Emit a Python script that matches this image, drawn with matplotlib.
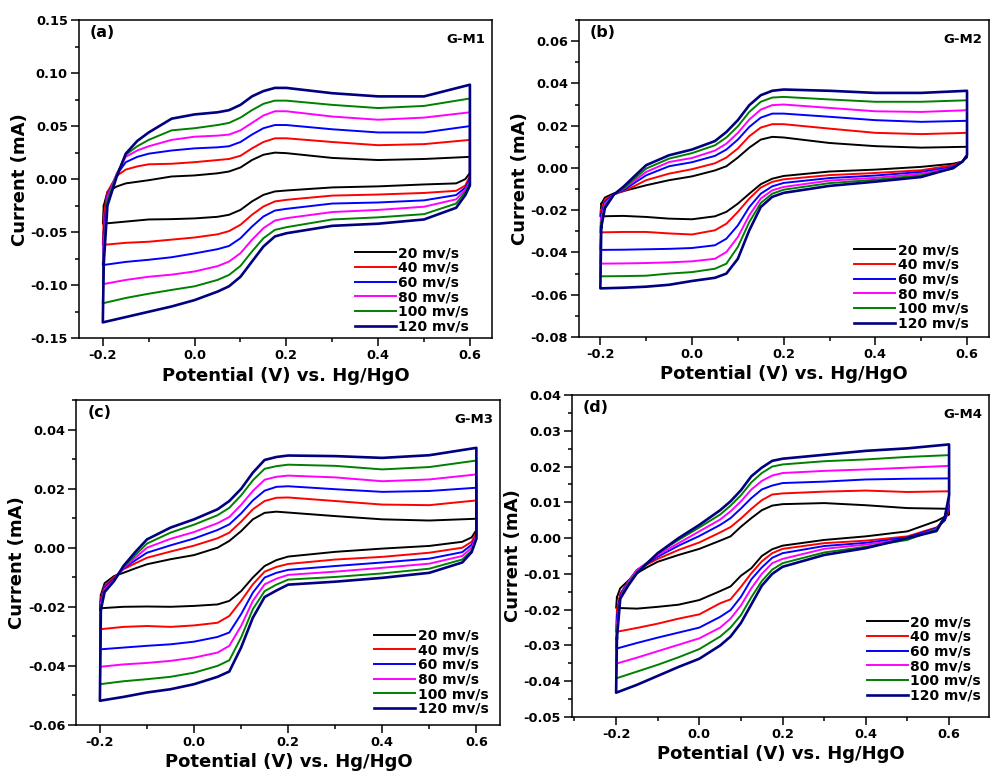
import matplotlib
matplotlib.use('Agg')
import matplotlib.pyplot as plt
from matplotlib.ticker import MultipleLocator, AutoMinorLocator, FuncFormatter

plt.rcParams['font.family'] = ['DejaVu Sans']
plt.rcParams['font.weight'] = 'bold'

rates = ['20 mv/s', '40 mv/s', '60 mv/s', '80 mv/s', '100 mv/s', '120 mv/s']
colors = ['#000000', '#ff0000', '#0000ff', '#ff00ff', '#008000', '#000080']

# potentials of the read points: forward (anodic) and reverse (cathodic) scans
up_v = [-0.198, -0.19, -0.17, -0.15, -0.125, -0.1, -0.05, 0.0, 0.05, 0.075, 0.1, 0.125, 0.15, 0.175, 0.2, 0.3, 0.4, 0.5, 0.6]
lo_v = [0.6, 0.59, 0.57, 0.5, 0.4, 0.3, 0.2, 0.175, 0.15, 0.125, 0.1, 0.075, 0.05, 0.0, -0.05, -0.1, -0.15, -0.2]

# G-M1 currents (mA), one row per scan rate
a_up = [
    [-0.025, -0.012, -0.007, -0.004, -0.0025, -0.001, 0.0025, 0.0035, 0.0055, 0.0072, 0.011, 0.018, 0.023, 0.025, 0.0245, 0.020, 0.018, 0.019, 0.021],
    [-0.035, -0.012, 0.003, 0.009, 0.012, 0.014, 0.0145, 0.016, 0.018, 0.019, 0.022, 0.029, 0.035, 0.0385, 0.0385, 0.035, 0.032, 0.033, 0.037],
    [-0.050, -0.015, 0.004, 0.016, 0.021, 0.024, 0.027, 0.029, 0.030, 0.031, 0.035, 0.042, 0.048, 0.051, 0.051, 0.047, 0.044, 0.044, 0.050],
    [-0.060, -0.017, 0.005, 0.021, 0.027, 0.031, 0.037, 0.040, 0.041, 0.042, 0.046, 0.053, 0.060, 0.064, 0.064, 0.059, 0.056, 0.058, 0.063],
    [-0.070, -0.020, 0.004, 0.023, 0.031, 0.037, 0.046, 0.048, 0.051, 0.053, 0.058, 0.065, 0.071, 0.074, 0.074, 0.070, 0.067, 0.069, 0.076],
    [-0.080, -0.025, 0.002, 0.024, 0.036, 0.044, 0.057, 0.061, 0.063, 0.065, 0.070, 0.078, 0.083, 0.086, 0.086, 0.081, 0.078, 0.078, 0.089],
]
a_lo = [
    [0.006, 0.000, -0.004, -0.005, -0.0068, -0.0078, -0.0107, -0.0116, -0.0148, -0.021, -0.029, -0.0336, -0.0355, -0.037, -0.0377, -0.038, -0.040, -0.042],
    [0.003, -0.006, -0.011, -0.013, -0.0145, -0.0155, -0.0195, -0.021, -0.0258, -0.0336, -0.043, -0.049, -0.052, -0.055, -0.057, -0.059, -0.060, -0.062],
    [0.000, -0.008, -0.015, -0.020, -0.022, -0.023, -0.028, -0.0296, -0.0352, -0.0447, -0.0557, -0.063, -0.066, -0.070, -0.0736, -0.076, -0.078, -0.081],
    [-0.002, -0.010, -0.019, -0.026, -0.029, -0.031, -0.0368, -0.039, -0.0462, -0.0572, -0.0698, -0.0777, -0.082, -0.087, -0.090, -0.092, -0.095, -0.099],
    [-0.004, -0.012, -0.023, -0.033, -0.036, -0.038, -0.0453, -0.0478, -0.0557, -0.0682, -0.0818, -0.0903, -0.095, -0.101, -0.1044, -0.108, -0.112, -0.117],
    [-0.006, -0.015, -0.027, -0.038, -0.042, -0.044, -0.051, -0.054, -0.0635, -0.0777, -0.092, -0.101, -0.106, -0.114, -0.120, -0.125, -0.130, -0.135],
]

# G-M2
b_up = [
    [-0.017, -0.014, -0.012, -0.011, -0.0096, -0.0082, -0.0058, -0.004, -0.0012, 0.0008, 0.0049, 0.0096, 0.0134, 0.0147, 0.0144, 0.0118, 0.0103, 0.0096, 0.0100],
    [-0.020, -0.015, -0.0125, -0.011, -0.0085, -0.0058, -0.0027, -0.0006, 0.0022, 0.0049, 0.0092, 0.015, 0.0191, 0.0207, 0.0207, 0.0186, 0.0166, 0.0160, 0.0166],
    [-0.022, -0.016, -0.0125, -0.0106, -0.007, -0.0035, 0.0008, 0.0027, 0.0057, 0.0087, 0.0134, 0.0194, 0.0238, 0.0257, 0.0257, 0.0242, 0.0226, 0.0218, 0.0223],
    [-0.024, -0.017, -0.0125, -0.010, -0.006, -0.0019, 0.0028, 0.0047, 0.0082, 0.0115, 0.0166, 0.0229, 0.0276, 0.0297, 0.0300, 0.0284, 0.0268, 0.0265, 0.0273],
    [-0.026, -0.018, -0.0125, -0.0098, -0.005, -0.0003, 0.0044, 0.0070, 0.0107, 0.0144, 0.0197, 0.0265, 0.0313, 0.0333, 0.0336, 0.0324, 0.0313, 0.0313, 0.0320],
    [-0.028, -0.019, -0.0125, -0.009, -0.0038, 0.0013, 0.0060, 0.0087, 0.0127, 0.0170, 0.0226, 0.0297, 0.0344, 0.0365, 0.0371, 0.0365, 0.0355, 0.0355, 0.0365],
]
b_lo = [
    [0.005, 0.003, 0.002, 0.0005, -0.0008, -0.0017, -0.0038, -0.0051, -0.0077, -0.0122, -0.0169, -0.0208, -0.0229, -0.0243, -0.024, -0.0232, -0.0227, -0.0229],
    [0.006, 0.003, 0.0013, -0.0011, -0.0024, -0.0034, -0.0054, -0.0066, -0.0093, -0.0145, -0.0208, -0.0264, -0.0295, -0.0315, -0.031, -0.0303, -0.0303, -0.0305],
    [0.006, 0.003, 0.0005, -0.0019, -0.0036, -0.0048, -0.0071, -0.0087, -0.0122, -0.0185, -0.0272, -0.0335, -0.0366, -0.0379, -0.0383, -0.0385, -0.0387, -0.0388],
    [0.006, 0.003, 0.0, -0.0027, -0.0047, -0.0060, -0.0090, -0.0106, -0.0145, -0.0224, -0.0327, -0.0398, -0.0430, -0.0442, -0.0447, -0.0450, -0.0452, -0.0453],
    [0.006, 0.003, -0.0003, -0.0035, -0.0056, -0.0072, -0.0103, -0.0122, -0.0166, -0.0256, -0.0374, -0.0453, -0.0477, -0.0493, -0.0500, -0.0510, -0.0512, -0.0513],
    [0.006, 0.003, 0.0, -0.0043, -0.0065, -0.0085, -0.0118, -0.0137, -0.0185, -0.0295, -0.0430, -0.0500, -0.0520, -0.0535, -0.0553, -0.0562, -0.0567, -0.0570],
]

# G-M3
c_up = [
    [-0.016, -0.012, -0.0096, -0.0085, -0.007, -0.0056, -0.0039, -0.0025, 0.0, 0.0023, 0.0056, 0.0096, 0.0118, 0.0122, 0.0119, 0.0107, 0.0096, 0.0092, 0.0098],
    [-0.017, -0.013, -0.010, -0.0073, -0.0053, -0.0034, -0.0013, 0.0007, 0.0032, 0.0051, 0.0088, 0.013, 0.0158, 0.0169, 0.0170, 0.0158, 0.0146, 0.0144, 0.0160],
    [-0.018, -0.0135, -0.0105, -0.007, -0.0043, -0.0017, 0.0008, 0.0031, 0.006, 0.0079, 0.0116, 0.016, 0.0193, 0.0206, 0.0208, 0.0198, 0.0189, 0.0192, 0.0203],
    [-0.019, -0.014, -0.011, -0.0068, -0.0034, 0.0, 0.003, 0.0053, 0.0083, 0.0104, 0.0145, 0.0192, 0.023, 0.024, 0.0244, 0.0238, 0.0225, 0.0231, 0.0248],
    [-0.020, -0.0145, -0.0112, -0.0065, -0.0025, 0.0014, 0.0051, 0.0078, 0.011, 0.0135, 0.0177, 0.0228, 0.0267, 0.0276, 0.0281, 0.0277, 0.0265, 0.0273, 0.0295],
    [-0.021, -0.015, -0.0113, -0.0062, -0.0015, 0.0028, 0.0068, 0.0096, 0.013, 0.0158, 0.0199, 0.0254, 0.0297, 0.0307, 0.0312, 0.0310, 0.0304, 0.0313, 0.0338],
]
c_lo = [
    [0.006, 0.0035, 0.002, 0.0006, -0.0003, -0.0014, -0.003, -0.0042, -0.0062, -0.0101, -0.0147, -0.018, -0.0192, -0.0197, -0.020, -0.0199, -0.020, -0.0205],
    [0.005, 0.002, 0.0, -0.0017, -0.0031, -0.0040, -0.0055, -0.0065, -0.0081, -0.0124, -0.018, -0.0231, -0.0254, -0.0263, -0.0268, -0.0265, -0.0268, -0.0276],
    [0.004, 0.001, -0.0015, -0.0037, -0.005, -0.0062, -0.0075, -0.0085, -0.0101, -0.0152, -0.0225, -0.0287, -0.0302, -0.0318, -0.0327, -0.0332, -0.0338, -0.0344],
    [0.004, 0.0, -0.0028, -0.0054, -0.0068, -0.0081, -0.0092, -0.0105, -0.0124, -0.018, -0.0265, -0.0332, -0.0355, -0.0372, -0.0383, -0.039, -0.0395, -0.0403],
    [0.003, -0.001, -0.004, -0.0071, -0.0087, -0.0099, -0.0108, -0.0125, -0.0147, -0.0208, -0.0304, -0.0381, -0.040, -0.0423, -0.0437, -0.0445, -0.0452, -0.0462],
    [0.003, -0.0015, -0.005, -0.0085, -0.0102, -0.0115, -0.0125, -0.0145, -0.0167, -0.0237, -0.0338, -0.0419, -0.0437, -0.0462, -0.0479, -0.049, -0.0505, -0.0518],
]

# G-M4
d_up = [
    [-0.0165, -0.014, -0.0118, -0.0098, -0.0081, -0.0066, -0.0047, -0.003, -0.0007, 0.0005, 0.0032, 0.0056, 0.0078, 0.0091, 0.0095, 0.0098, 0.0092, 0.0084, 0.0082],
    [-0.020, -0.0155, -0.012, -0.0089, -0.0073, -0.0058, -0.0033, -0.0012, 0.0016, 0.0031, 0.0055, 0.0082, 0.0106, 0.0122, 0.0125, 0.0130, 0.0133, 0.0129, 0.0131],
    [-0.022, -0.016, -0.012, -0.0089, -0.007, -0.0052, -0.0021, 0.0006, 0.0037, 0.0056, 0.0083, 0.0112, 0.0136, 0.0147, 0.0154, 0.0158, 0.0164, 0.0166, 0.0167],
    [-0.024, -0.0165, -0.0122, -0.0089, -0.0068, -0.0047, -0.0014, 0.0019, 0.0052, 0.0075, 0.0103, 0.0136, 0.016, 0.0175, 0.0182, 0.0188, 0.0192, 0.0197, 0.0202],
    [-0.026, -0.0168, -0.0126, -0.0094, -0.0068, -0.0042, -0.0005, 0.003, 0.0066, 0.0091, 0.012, 0.0156, 0.0182, 0.020, 0.0206, 0.0215, 0.0220, 0.0227, 0.0232],
    [-0.028, -0.0169, -0.0131, -0.0098, -0.007, -0.0042, 0.0, 0.0037, 0.0078, 0.0103, 0.0134, 0.0173, 0.0197, 0.0216, 0.0222, 0.0233, 0.0244, 0.0251, 0.0262],
]
d_lo = [
    [0.0066, 0.006, 0.0048, 0.0019, 0.0005, -0.0005, -0.0021, -0.0031, -0.005, -0.0084, -0.0105, -0.0135, -0.0148, -0.0173, -0.0186, -0.0192, -0.0197, -0.0195],
    [0.008, 0.005, 0.003, 0.0005, -0.0007, -0.0014, -0.003, -0.0042, -0.0065, -0.0098, -0.0136, -0.0171, -0.0182, -0.0213, -0.0225, -0.0239, -0.0251, -0.0262],
    [0.009, 0.005, 0.0028, 0.0002, -0.0013, -0.0022, -0.0042, -0.0055, -0.0082, -0.0115, -0.0164, -0.0201, -0.022, -0.025, -0.0264, -0.0278, -0.0293, -0.0309],
    [0.010, 0.006, 0.0025, -0.0002, -0.0018, -0.003, -0.0058, -0.007, -0.010, -0.014, -0.0188, -0.0225, -0.025, -0.028, -0.0298, -0.0316, -0.0334, -0.0351],
    [0.011, 0.006, 0.0025, -0.0005, -0.0024, -0.004, -0.007, -0.0088, -0.012, -0.0165, -0.0215, -0.025, -0.0275, -0.031, -0.0333, -0.0354, -0.0373, -0.0392],
    [0.012, 0.006, 0.002, 0.0, -0.0028, -0.0047, -0.008, -0.010, -0.0133, -0.0185, -0.0237, -0.0275, -0.030, -0.0337, -0.036, -0.0385, -0.041, -0.0432],
]


def fmt(digits):
    # keeps a tiny negative round-off at zero from printing as -0.00
    return FuncFormatter(lambda v, p: '%.*f' % (digits, 0.0 if abs(v) < 1e-9 else v))


def panel(ax, up, lo, xlim, ylim, ystep, tag, name, leg_anchor):
    for i in range(len(rates)):
        xs = up_v + lo_v + [up_v[0]]
        ys = up[i] + lo[i] + [up[i][0]]
        lw = 1.9 if i == 5 else 1.4
        ax.plot(xs, ys, color=colors[i], lw=lw, label=rates[i], solid_joinstyle='round')
    ax.set_xlim(*xlim)
    ax.set_ylim(*ylim)
    ax.xaxis.set_major_locator(MultipleLocator(0.2))
    ax.xaxis.set_minor_locator(AutoMinorLocator(2))
    ax.yaxis.set_major_locator(MultipleLocator(ystep))
    ax.yaxis.set_minor_locator(AutoMinorLocator(2))
    ax.xaxis.set_major_formatter(fmt(1))
    ax.yaxis.set_major_formatter(fmt(2))
    ax.tick_params(which='both', direction='out', top=False, right=False, labelsize=9.3, width=1.1, pad=2.5)
    ax.tick_params(which='major', length=5.5)
    ax.tick_params(which='minor', length=3)
    for s in ax.spines.values():
        s.set_linewidth(1.1)
    ax.set_xlabel('Potential (V) vs. Hg/HgO', fontsize=13, fontweight='bold', labelpad=3)
    ax.set_ylabel('Current (mA)', fontsize=13, fontweight='bold', labelpad=1)
    ax.text(0.026, 0.985, tag, transform=ax.transAxes, fontsize=11.5, fontweight='bold', va='top', ha='left')
    ax.text(0.983, 0.96, name, transform=ax.transAxes, fontsize=9.5, fontweight='bold', va='top', ha='right')
    leg = ax.legend(loc='lower right', bbox_to_anchor=leg_anchor, frameon=False, fontsize=10,
                    handlelength=2.95, handletextpad=0.2, labelspacing=0.05, borderpad=0.0,
                    borderaxespad=0.0)
    for t in leg.get_texts():
        t.set_fontweight('bold')


fig = plt.figure(figsize=(9.92, 7.72), dpi=100)
ax_a = fig.add_axes([0.0796, 0.5618, 0.4163, 0.4123])
ax_b = fig.add_axes([0.5837, 0.5635, 0.4133, 0.4106])
ax_c = fig.add_axes([0.0770, 0.0609, 0.4274, 0.4210])
ax_d = fig.add_axes([0.5766, 0.0712, 0.4204, 0.4171])

panel(ax_a, a_up, a_lo, (-0.252, 0.648), (-0.15, 0.15), 0.05, '(a)', 'G-M1', (0.945, 0.015))
panel(ax_b, b_up, b_lo, (-0.2465, 0.648), (-0.08, 0.07), 0.02, '(b)', 'G-M2', (0.95, 0.02))
panel(ax_c, c_up, c_lo, (-0.250, 0.651), (-0.06, 0.05), 0.02, '(c)', 'G-M3', (0.972, 0.028))
panel(ax_d, d_up, d_lo, (-0.306, 0.696), (-0.05, 0.04), 0.01, '(d)', 'G-M4', (0.981, 0.045))

fig.savefig('out.png', dpi=100)
